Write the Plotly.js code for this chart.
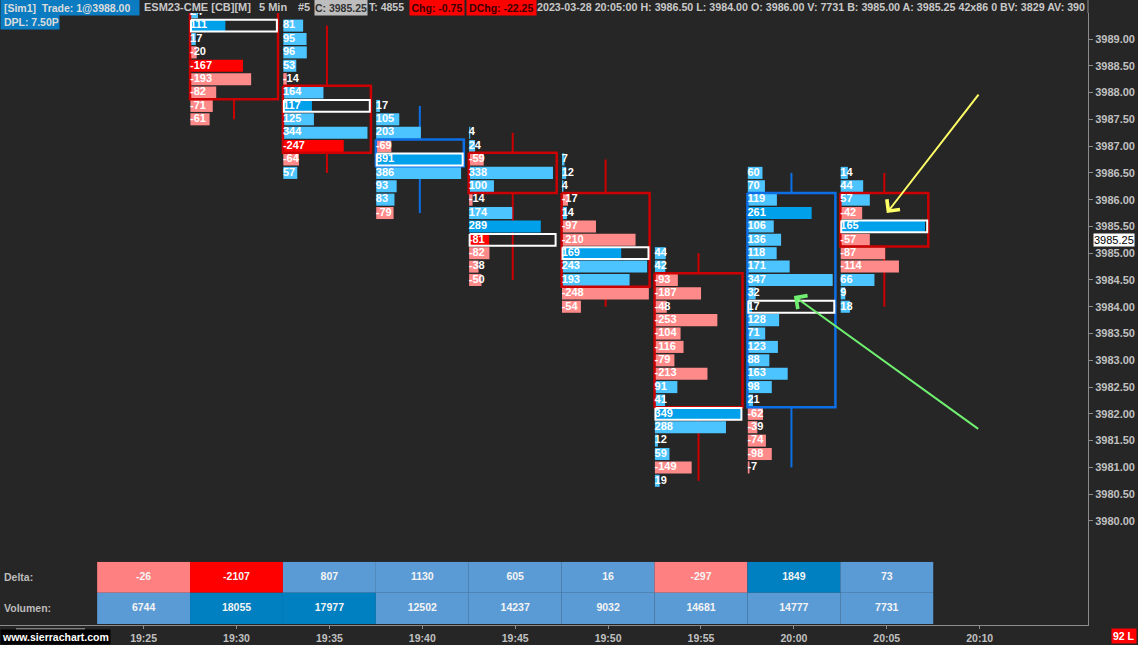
<!DOCTYPE html>
<html><head><meta charset="utf-8">
<script src="https://cdn.plot.ly/plotly-3.0.1.min.js"></script>
<style>html,body{margin:0;padding:0;background:#262626;}#chart{width:1138px;height:645px;}</style>
</head><body><div id="chart"></div>
<script>
// ---------- DATA ----------
const axisTimes = ["19:25","19:30","19:35","19:40","19:45","19:50","19:55","20:00","20:05","20:10"];
const barTimes = ["19:25","19:30","19:35","19:40","19:45","19:50","19:55","20:00","20:05"];
const deltaTotals = [-26,-2107,807,1130,605,16,-297,1849,73];
const volumeTotals = [6744,18055,17977,12502,14237,9032,14681,14777,7731];

// footprint bars (delta per price level, listed from the top price downward, 0.25 tick)
const fpTimes = ["19:30","19:35","19:40","19:45","19:50","19:55","20:00","20:05"];
const fpTopPrice = [3989.50,3989.25,3987.75,3987.25,3986.75,3985.00,3986.50,3986.50];
const fp1930 = [24,111,17,-20,-167,-193,-82,-71,-61];
const fp1935 = [81,95,96,53,-14,164,117,125,344,-247,-64,57];
const fp1940 = [17,105,203,-69,891,386,93,83,-79];
const fp1945 = [4,24,-59,338,100,-14,174,289,-81,-82,-38,-50];
const fp1950 = [7,12,4,-17,14,-97,-210,169,243,193,-248,-54];
const fp1955 = [44,42,-93,-187,-48,-253,-104,-116,-79,-213,91,41,349,288,12,59,-149,19];
const fp2000 = [60,70,119,261,106,136,118,171,347,32,17,128,71,123,88,163,98,21,-62,-39,-74,-98,-7];
const fp2005 = [14,44,57,-42,165,-57,-87,-114,66,9,18];
const fpLevels = [fp1930,fp1935,fp1940,fp1945,fp1950,fp1955,fp2000,fp2005];
// largest level value of each bar (scales the level bars)
const levelMax = [276,355,395,350,248,352,355,170];

const barOpen  = [3989.50,3988.00,3986.75,3986.75,3986.00,3984.50,3982.25,3986.00];
const barHigh  = [3989.50,3989.25,3987.75,3987.25,3986.75,3985.00,3986.50,3986.50];
const barLow   = [3987.50,3986.50,3985.75,3984.50,3984.00,3980.75,3981.00,3984.00];
const barClose = [3988.00,3987.00,3987.00,3986.25,3984.50,3982.25,3986.00,3985.25];
const pocPrice = [3989.25,3987.75,3986.75,3985.25,3985.00,3982.00,3984.00,3985.50];
const strongPrice = [[3988.50],[3987.00],[],[3985.50],[],[],[3985.75],[]];

const priceTicks = [3980,3980.5,3981,3981.5,3982,3982.5,3983,3983.5,3984,3984.5,3985,3985.5,3986,3986.5,3987,3987.5,3988,3988.5,3989];
const lastPrice = 3985.25;

const headerTexts = ["[Sim1]  Trade: 1@3988.00","ESM23-CME [CB][M]","5 Min","#5","C: 3985.25","T: 4855","Chg: -0.75","DChg: -22.25",
  "2023-03-28 20:05:00 H: 3986.50 L: 3984.00 O: 3986.00 V: 7731 B: 3985.00 A: 3985.25 42x86 0 BV: 3829 AV: 390"];
const dplText = "DPL: 7.50P";
const rowLabels = ["Delta:","Volumen:"];
// user drawn arrows: [tailTime, tailPrice, tipTime, tipPrice]
const arrowYellow = ["20:10",3987.99,"20:05",3985.75];
const arrowGreen = ["20:10",3981.70,"20:00",3984.20];

// ---------- BUILD ----------
const FONT = "Liberation Sans, Arial, sans-serif";
const C_LB='#4cc4ff', C_DB='#00a0ea', C_LR='#ff8a8a', C_BR='#ff0000';
const BOXW = 0.947, BARW = 0.935;
const tIdx = t => axisTimes.indexOf(t);

const bx=[],by=[],bb=[],bc=[], tx=[],ty=[],tt=[];
const shapes=[];
const redBox={x:[],y:[]}, blueBox={x:[],y:[]}, pocBox={x:[],y:[]};
fpTimes.forEach((tm,c)=>{
  const t=tIdx(tm), left=t-0.5, right=left+BOXW, wx=left+BOXW/2;
  fpLevels[c].forEach((v,i)=>{
    const p=fpTopPrice[c]-0.25*i;
    const strong = p===pocPrice[c] || strongPrice[c].includes(p);
    bx.push(Math.max(Math.min(Math.abs(v)/levelMax[c],1)*BARW,0.012));
    by.push(p); bb.push(left+0.004);
    bc.push(v>=0 ? (strong?C_DB:C_LB) : (strong?C_BR:C_LR));
    tx.push(left); ty.push(p); tt.push(String(v));
  });
  const top=Math.max(barOpen[c],barClose[c])+0.125, bot=Math.min(barOpen[c],barClose[c])-0.125;
  const up = barClose[c]>barOpen[c];
  const col = up?'#0d6fe6':'#cc0000';
  if(barHigh[c]>top) shapes.push({type:'line',layer:'below',xref:'x',yref:'y',x0:wx,x1:wx,y0:top,y1:barHigh[c],line:{color:col,width:2}});
  if(barLow[c]<bot) shapes.push({type:'line',layer:'below',xref:'x',yref:'y',x0:wx,x1:wx,y0:bot,y1:barLow[c],line:{color:col,width:2}});
  const B = up?blueBox:redBox;
  B.x.push(left,right,right,left,left,null); B.y.push(top,top,bot,bot,top,null);
  const pl=left+0.01, pr=right-0.012, pt=pocPrice[c]+0.11, pb=pocPrice[c]-0.11;
  pocBox.x.push(pl,pr,pr,pl,pl,null); pocBox.y.push(pt,pt,pb,pb,pt,null);
});

const traces=[];
traces.push({type:'bar',orientation:'h',x:bx,y:by,base:bb,width:0.225,marker:{color:bc,line:{width:0}},hoverinfo:'skip',xaxis:'x',yaxis:'y'});
// table cells
const dCol = deltaTotals.map(v=> v<=-1500?'#ff0000': v<0?'#ff8080': v>=1500?'#0080c0':'#5b9bd5');
const vCol = volumeTotals.map(v=> v>=15000?'#0080c0':'#5b9bd5');
const bIdx = barTimes.map(tIdx);
traces.push({type:'bar',x:bIdx,y:bIdx.map(()=>1),base:bIdx.map(()=>1),width:1,marker:{color:dCol,line:{width:0}},xaxis:'x',yaxis:'y2',hoverinfo:'skip'});
traces.push({type:'bar',x:bIdx,y:bIdx.map(()=>1),base:bIdx.map(()=>0),width:1,marker:{color:vCol,line:{width:0}},xaxis:'x',yaxis:'y2',hoverinfo:'skip'});
traces.push({type:'scatter',mode:'lines',x:redBox.x,y:redBox.y,line:{color:'#cc0000',width:2.5},hoverinfo:'skip'});
traces.push({type:'scatter',mode:'lines',x:blueBox.x,y:blueBox.y,line:{color:'#0d6fe6',width:2.5},hoverinfo:'skip'});
traces.push({type:'scatter',mode:'lines',x:pocBox.x,y:pocBox.y,line:{color:'#ffffff',width:2},hoverinfo:'skip'});
traces.push({type:'scatter',mode:'text',x:tx,y:ty,text:tt,textposition:'middle right',
  textfont:{family:FONT,size:11,color:'#ffffff',weight:'bold'},hoverinfo:'skip',cliponaxis:true});
traces.push({type:'scatter',mode:'text',x:bIdx.concat(bIdx),y:bIdx.map(()=>1.5).concat(bIdx.map(()=>0.5)),
  text:deltaTotals.map(String).concat(volumeTotals.map(String)),textposition:'middle center',
  textfont:{family:FONT,size:10.5,color:'#f4f4f4',weight:'bold'},xaxis:'x',yaxis:'y2',hoverinfo:'skip'});

// ---------- LAYOUT ----------
const PW=1088, PH=612, PT=13;
const px = v=>v/PW, py = v=>(PT+PH-v)/PH;
const annotations=[];
const hdrX=[0,142.5,258,297,313.5,368,409,465.5,536];
const hdrW=[137.5,null,null,null,52,null,54,68.5,null];
const hdrS=[10.5,11,11,11,10.5,10.5,10.5,10.5,10.7];
const hdrBg=['#0b7cc2',null,null,null,'#bdbdbd',null,'#ff0000','#ff0000',null];
const hdrFc=['#dcdcdc','#c8c8c8','#c8c8c8','#c8c8c8','#333333','#c8c8c8','#3a0000','#3a0000','#c8c8c8'];
headerTexts.forEach((s,i)=>{
  const a={xref:'paper',yref:'paper',x:px(hdrX[i]),y:py(7),xanchor:'left',yanchor:'middle',showarrow:false,
    text:(i===0?'\u00a0':'')+s.replace('  ','\u00a0 '),font:{family:FONT,size:hdrS[i],color:hdrFc[i],weight:'bold'},borderpad:0};
  if(hdrBg[i]){a.bgcolor=hdrBg[i];a.width=hdrW[i];a.height=15;a.align=i===0?'left':'center';}
  annotations.push(a);
});
annotations.push({xref:'paper',yref:'paper',x:0,y:py(22),xanchor:'left',yanchor:'middle',showarrow:false,text:'\u00a0'+dplText,
  bgcolor:'#0b7cc2',height:14,borderpad:0,font:{family:FONT,size:10.5,color:'#dcdcdc',weight:'bold'}});
rowLabels.forEach((s,i)=>annotations.push({xref:'paper',yref:'y2',x:px(2),y:1.5-i,xanchor:'left',yanchor:'middle',showarrow:false,text:s,
  font:{family:FONT,size:10.5,color:'#bcbcbc',weight:'bold'}}));
annotations.push({xref:'paper',yref:'y',x:1,y:lastPrice,xanchor:'left',yanchor:'middle',xshift:5,showarrow:false,text:lastPrice.toFixed(2),
  bgcolor:'#ffffff',borderpad:0,font:{family:FONT,size:11,color:'#000000'}});
annotations.push({xref:'paper',yref:'paper',x:0,y:py(636.5),xanchor:'left',yanchor:'middle',showarrow:false,text:'www.sierrachart.com',
  bgcolor:'#000000',borderpad:1,font:{family:FONT,size:10.5,color:'#ffffff',weight:'bold'}});
annotations.push({xref:'paper',yref:'paper',x:px(1111),y:py(636),xanchor:'left',yanchor:'middle',showarrow:false,text:'92 L',
  bgcolor:'#ff0000',borderpad:1,font:{family:FONT,size:10.5,color:'#ffffff',weight:'bold'}});
[[arrowYellow,'#ffff66'],[arrowGreen,'#70f070']].forEach(([a,col])=>annotations.push({
  xref:'x',yref:'y',axref:'x',ayref:'y',x:tIdx(a[2]),y:a[3],ax:tIdx(a[0]),ay:a[1],text:'',showarrow:true,
  arrowhead:4,arrowsize:1.6,arrowwidth:2,arrowcolor:col,standoff:0}));

shapes.push({type:'line',xref:'paper',yref:'paper',x0:1,x1:1,y0:1,y1:py(0),line:{color:'#8c8c8c',width:1}});
shapes.push({type:'line',xref:'paper',yref:'paper',x0:px(16),x1:px(85),y0:py(629),y1:py(629),line:{color:'#d0d0d0',width:1}});

const axFontX={family:FONT,size:10.5,color:'#c0c0c0',weight:'bold'};
const axFontY={family:FONT,size:11,color:'#c0c0c0',weight:'bold'};
const layout={
  width:1138,height:645,margin:{l:0,r:50,t:PT,b:20},paper_bgcolor:'#262626',plot_bgcolor:'#262626',
  showlegend:false,barmode:'overlay',
  xaxis:{range:[-1.5457,10.166],tickvals:axisTimes.map((_,i)=>i),ticktext:axisTimes,showgrid:false,zeroline:false,
    showline:true,linecolor:'#8c8c8c',linewidth:1,ticks:'outside',ticklen:3,tickcolor:'#8c8c8c',tickfont:axFontX,anchor:'y'},
  yaxis:{range:[3978.057,3989.4855],side:'right',tickvals:priceTicks,ticktext:priceTicks.map(v=>v.toFixed(2)),showgrid:false,zeroline:false,
    showline:true,linecolor:'#8c8c8c',linewidth:1,ticks:'outside',ticklen:4,tickcolor:'#8c8c8c',tickfont:axFontY,anchor:'x'},
  yaxis2:{domain:[0.0016,0.1035],range:[0,2],visible:false,anchor:'x',showgrid:false,zeroline:false},
  annotations:annotations,shapes:shapes
};
Plotly.newPlot('chart',traces,layout,{displayModeBar:false,staticPlot:true});
</script></body></html>
